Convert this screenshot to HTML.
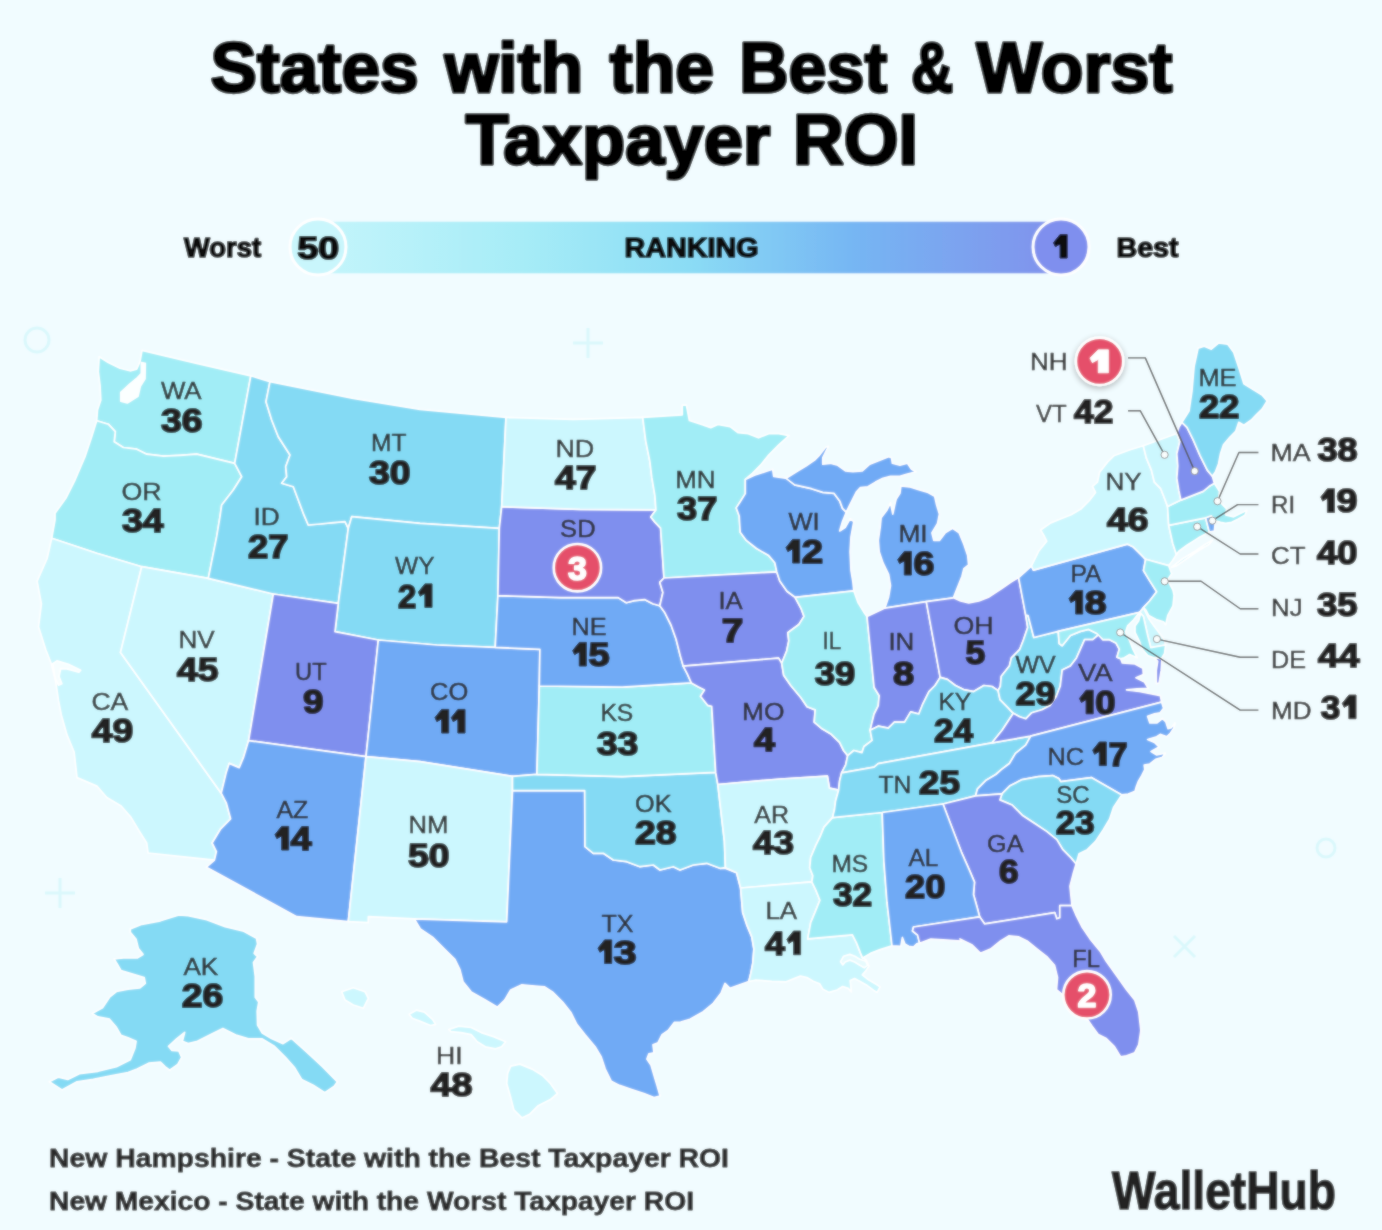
<!DOCTYPE html><html><head><meta charset="utf-8"><title>States with the Best &amp; Worst Taxpayer ROI</title>
<style>html,body{margin:0;padding:0;background:#f1fcff}body{width:1382px;height:1230px;overflow:hidden}svg{display:block;font-family:"Liberation Sans",sans-serif}.st path{stroke:#fff;stroke-width:1.7;stroke-linejoin:round}</style></head><body>
<svg width="1382" height="1230" viewBox="0 0 1382 1230">
<defs><linearGradient id="lg" x1="0" x2="1" y1="0" y2="0"><stop offset="0" stop-color="#c4f5fb"/><stop offset="0.28" stop-color="#a6ecf7"/><stop offset="0.5" stop-color="#8bdcf5"/><stop offset="0.72" stop-color="#76b6f3"/><stop offset="1" stop-color="#8191ec"/></linearGradient>
<filter id="sh" x="-40%" y="-40%" width="180%" height="180%"><feGaussianBlur in="SourceAlpha" stdDeviation="3"/><feOffset dy="2"/><feComponentTransfer><feFuncA type="linear" slope="0.3"/></feComponentTransfer><feMerge><feMergeNode/><feMergeNode in="SourceGraphic"/></feMerge></filter><filter id="soft" filterUnits="userSpaceOnUse" x="0" y="0" width="1382" height="1230"><feGaussianBlur stdDeviation="0.8" result="b"/><feComposite in="SourceGraphic" in2="b" operator="arithmetic" k1="0" k2="0.45" k3="0.55" k4="0"/></filter></defs><g filter="url(#soft)">
<rect width="1382" height="1230" fill="#f1fcff"/>
<g fill="none" stroke="#daf8fc" stroke-width="3"><circle cx="37" cy="340" r="12"/><circle cx="1326" cy="848" r="9"/><path d="M588,328V358M573,343H603"/><path d="M60,878V908M45,893H75"/><path d="M1174,936L1195,957M1195,936L1174,957"/></g>
<text x="210.4" y="92.0" textLength="208.2" lengthAdjust="spacingAndGlyphs" font-size="70" font-weight="bold" fill="#040404" stroke="#040404" stroke-width="3.3" stroke-linejoin="round">States</text>
<text x="444.4" y="92.0" textLength="138.7" lengthAdjust="spacingAndGlyphs" font-size="70" font-weight="bold" fill="#040404" stroke="#040404" stroke-width="3.3" stroke-linejoin="round">with</text>
<text x="609.4" y="92.0" textLength="104.8" lengthAdjust="spacingAndGlyphs" font-size="70" font-weight="bold" fill="#040404" stroke="#040404" stroke-width="3.3" stroke-linejoin="round">the</text>
<text x="739.2" y="92.0" textLength="148.0" lengthAdjust="spacingAndGlyphs" font-size="70" font-weight="bold" fill="#040404" stroke="#040404" stroke-width="3.3" stroke-linejoin="round">Best</text>
<text x="911.1" y="92.0" textLength="42.5" lengthAdjust="spacingAndGlyphs" font-size="70" font-weight="bold" fill="#040404" stroke="#040404" stroke-width="3.3" stroke-linejoin="round">&amp;</text>
<text x="976.2" y="92.0" textLength="196.4" lengthAdjust="spacingAndGlyphs" font-size="70" font-weight="bold" fill="#040404" stroke="#040404" stroke-width="3.3" stroke-linejoin="round">Worst</text>
<text x="465.4" y="164.0" textLength="305.2" lengthAdjust="spacingAndGlyphs" font-size="70" font-weight="bold" fill="#040404" stroke="#040404" stroke-width="3.3" stroke-linejoin="round">Taxpayer</text>
<text x="792.9" y="164.0" textLength="125.2" lengthAdjust="spacingAndGlyphs" font-size="70" font-weight="bold" fill="#040404" stroke="#040404" stroke-width="3.3" stroke-linejoin="round">ROI</text>
<rect x="318" y="221.7" width="743" height="51.6" fill="url(#lg)"/>
<circle cx="318" cy="247" r="28" fill="#c9f6fc" stroke="#fff" stroke-width="3"/>
<circle cx="1061" cy="247" r="28" fill="#7f8fee" stroke="#fff" stroke-width="3"/>
<text x="184.0" y="257.0" textLength="77.0" lengthAdjust="spacingAndGlyphs" font-size="27" font-weight="bold" fill="#080808" stroke="#080808" stroke-width="1.6" stroke-linejoin="round">Worst</text>
<text x="1116.5" y="257.0" textLength="62.0" lengthAdjust="spacingAndGlyphs" font-size="27" font-weight="bold" fill="#080808" stroke="#080808" stroke-width="1.6" stroke-linejoin="round">Best</text>
<text x="624.5" y="257.0" textLength="134.0" lengthAdjust="spacingAndGlyphs" font-size="27" font-weight="bold" fill="#080808" stroke="#080808" stroke-width="1.6" stroke-linejoin="round">RANKING</text>
<text x="297.5" y="258.5" textLength="41.5" lengthAdjust="spacingAndGlyphs" font-size="32" font-weight="bold" fill="#080808" stroke="#080808" stroke-width="2.0" stroke-linejoin="round">50</text>
<polygon points="1060.1,234.5 1067.1,234.5 1067.1,258.0 1060.1,258.0 1060.1,243.9 1055.4,246.7 1053.5,242.7" fill="#080808" stroke="#080808" stroke-width="1.0" stroke-linejoin="round"/>
<g class="st">
<path d="M99.2,356.7 108.3,362.5 120.0,368.3 130.0,370.8 136.7,369.2 140.0,361.7 142.0,350.3 196.7,363.3 250.8,375.8 234.7,463.3 196.7,454.2 180.0,455.3 163.3,456.2 146.7,454.2 136.7,449.2 123.3,447.5 114.2,441.7 115.3,431.7 108.3,424.2 96.7,420.8 97.5,410.0 100.8,400.0 100.0,385.0 98.3,371.7 99.2,356.7Z" fill="#a1edf6"/>
<path d="M96.7,420.8 108.3,424.2 115.3,431.7 114.2,441.7 123.3,447.5 136.7,449.2 146.7,454.2 163.3,456.2 180.0,455.3 196.7,454.2 234.7,463.3 241.7,476.7 233.3,490.0 221.7,505.0 220.0,516.7 216.7,536.7 208.3,578.3 141.7,566.7 96.7,553.3 51.7,538.3 55.0,520.0 55.0,513.3 65.8,498.3 75.0,480.0 85.0,456.7 91.7,436.7 96.7,420.8Z" fill="#a1edf6"/>
<path d="M51.7,538.3 96.7,553.3 141.7,566.7 120.5,652.4 221.2,793.2 226.4,803.2 230.6,818.8 220.7,828.8 212.1,843.0 216.4,851.6 214.4,860.1 148.1,853.0 146.7,843.0 139.6,831.7 131.0,817.4 121.1,806.0 106.8,797.5 96.9,786.1 77.0,777.6 74.1,752.0 67.0,734.9 61.3,715.0 58.5,700.7 55.6,680.8 51.3,663.8 45.7,649.5 38.5,626.8 41.4,604.0 37.1,581.2 47.1,558.5 51.7,538.3Z" fill="#ccf7fe"/>
<path d="M141.7,566.7 208.3,578.3 273.3,594.0 248.6,740.6 243.4,757.7 239.2,767.6 229.2,763.4 226.4,771.9 221.2,793.2 120.5,652.4 141.7,566.7Z" fill="#ccf7fe"/>
<path d="M250.8,375.8 270.0,381.7 266.0,401.7 271.7,420.0 278.3,436.7 290.0,455.0 285.7,466.7 286.7,476.7 281.7,483.3 293.3,486.7 298.3,500.0 303.3,513.3 308.3,525.0 320.0,524.0 333.3,522.7 345.0,521.7 348.3,528.3 338.3,603.3 273.3,594.0 208.3,578.3 216.7,536.7 220.0,516.7 221.7,505.0 233.3,490.0 241.7,476.7 234.7,463.3 250.8,375.8Z" fill="#84daf4"/>
<path d="M270.0,381.7 353.3,398.3 420.0,409.3 506.0,417.3 501.7,506.7 499.3,528.3 420.0,523.3 351.7,516.7 348.3,528.3 345.0,521.7 333.3,522.7 320.0,524.0 308.3,525.0 303.3,513.3 298.3,500.0 293.3,486.7 281.7,483.3 286.7,476.7 285.7,466.7 290.0,455.0 278.3,436.7 271.7,420.0 266.0,401.7 270.0,381.7Z" fill="#84daf4"/>
<path d="M351.7,516.7 420.0,523.3 499.3,528.3 497.9,595.6 495.2,647.4 436.7,645.0 378.3,640.0 335.0,631.7 338.3,603.3 348.3,528.3 351.7,516.7Z" fill="#84daf4"/>
<path d="M273.3,594.0 338.3,603.3 335.0,631.7 378.3,640.0 366.0,756.7 248.6,740.6 273.3,594.0Z" fill="#7f8fee"/>
<path d="M378.3,640.0 436.7,645.0 495.2,647.4 539.9,649.4 539.3,686.0 536.9,774.4 512.5,776.4 420.0,761.7 366.0,756.7 378.3,640.0Z" fill="#6faaf5"/>
<path d="M248.6,740.6 366.0,756.7 348.3,921.7 296.7,916.7 206.4,867.2 214.4,860.1 216.4,851.6 212.1,843.0 220.7,828.8 230.6,818.8 226.4,803.2 221.2,793.2 226.4,771.9 229.2,763.4 239.2,767.6 243.4,757.7 248.6,740.6Z" fill="#6faaf5"/>
<path d="M366.0,756.7 420.0,761.7 512.5,776.4 512.5,790.6 506.7,921.8 414.2,918.8 368.3,916.7 368.3,922.7 348.3,921.7 366.0,756.7Z" fill="#ccf7fe"/>
<path d="M414.2,918.8 506.7,921.8 512.5,790.6 584.7,790.6 585.0,846.7 593.3,853.3 603.3,853.3 613.3,860.0 626.7,861.7 640.0,866.7 653.3,865.0 660.0,870.0 673.3,866.7 680.0,870.0 693.3,865.0 706.7,863.3 720.0,868.3 725.0,868.3 736.6,872.8 740.6,888.0 742.7,912.4 746.7,924.6 751.8,936.8 753.9,949.0 752.8,963.2 750.8,973.4 748.8,981.5 730.0,988.3 725.0,983.3 721.0,993.3 713.3,1003.3 703.3,1011.7 690.0,1019.3 680.7,1022.0 674.3,1022.4 668.2,1030.5 662.1,1034.6 658.1,1042.7 653.0,1044.8 654.0,1052.9 648.9,1053.9 646.9,1059.0 651.0,1065.1 654.0,1075.2 657.1,1085.4 660.1,1096.0 654.0,1097.6 643.9,1093.5 631.7,1089.5 619.5,1085.4 611.3,1081.3 605.2,1069.1 601.2,1057.0 595.1,1046.8 584.9,1034.6 576.8,1024.4 570.7,1012.2 562.6,1002.1 552.4,991.9 544.3,986.8 532.1,985.8 521.9,984.8 510.7,989.9 504.7,1000.1 497.5,1007.2 485.3,1000.1 471.1,991.9 463.0,981.8 459.9,969.6 454.9,959.4 444.7,949.3 432.5,937.1 420.3,928.9 414.2,918.8Z" fill="#6faaf5"/>
<path d="M512.5,776.4 536.9,774.4 622.2,776.6 715.7,772.4 717.8,784.5 724.4,841.3 725.4,867.7 720.0,868.3 706.7,863.3 693.3,865.0 680.0,870.0 673.3,866.7 660.0,870.0 653.3,865.0 640.0,866.7 626.7,861.7 613.3,860.0 603.3,853.3 593.3,853.3 585.0,846.7 584.7,790.6 512.5,790.6 512.5,776.4Z" fill="#84daf4"/>
<path d="M539.3,686.0 622.2,687.2 691.3,682.9 698.5,687.0 704.5,690.1 700.5,696.2 707.6,705.3 711.7,706.3 715.7,772.4 622.2,776.6 536.9,774.4 539.3,686.0Z" fill="#a1edf6"/>
<path d="M497.9,595.6 561.3,597.6 618.2,597.6 626.3,602.7 634.4,600.6 644.6,599.6 652.7,603.7 659.8,605.7 664.9,612.8 671.0,625.0 676.1,639.3 680.2,655.5 683.2,666.1 687.3,673.8 691.3,682.9 622.2,687.2 539.3,686.0 539.9,649.4 495.2,647.4 497.9,595.6Z" fill="#6faaf5"/>
<path d="M501.7,506.7 580.0,509.3 655.9,509.9 650.8,517.0 654.9,522.1 660.6,528.2 664.0,578.0 659.8,582.4 662.9,592.5 659.8,605.7 652.7,603.7 644.6,599.6 634.4,600.6 626.3,602.7 618.2,597.6 561.3,597.6 497.9,595.6 499.3,528.3 501.7,506.7Z" fill="#7f8fee"/>
<path d="M506.0,417.3 573.3,419.3 642.7,417.4 645.7,440.8 649.8,461.1 651.8,477.4 654.9,495.7 655.9,509.9 580.0,509.3 501.7,506.7 506.0,417.3Z" fill="#ccf7fe"/>
<path d="M642.7,417.4 682.3,414.8 682.3,405.2 686.4,405.2 689.4,420.5 701.6,424.5 710.7,427.6 717.9,424.5 730.1,426.6 738.2,432.7 748.3,433.7 758.5,437.8 768.7,433.7 778.8,433.7 789.0,435.7 778.8,444.9 768.7,455.0 760.5,465.2 752.4,473.3 745.3,479.4 745.3,493.6 740.2,501.8 736.2,507.9 739.2,516.0 740.2,532.2 746.3,540.4 756.5,548.5 768.7,555.6 774.8,562.7 776.8,571.9 664.0,578.0 660.6,528.2 654.9,522.1 650.8,517.0 655.9,509.9 654.9,495.7 651.8,477.4 649.8,461.1 645.7,440.8 642.7,417.4Z" fill="#a1edf6"/>
<path d="M664.0,578.0 776.8,571.9 779.8,581.0 787.0,591.2 795.1,597.3 801.0,608.3 804.0,616.4 798.9,624.5 787.8,632.7 788.8,640.8 786.7,651.0 781.7,663.2 778.6,658.1 683.2,666.1 680.2,655.5 676.1,639.3 671.0,625.0 664.9,612.8 659.8,605.7 662.9,592.5 659.8,582.4Z" fill="#7f8fee"/>
<path d="M683.2,666.1 778.6,658.1 781.7,663.2 783.7,675.3 790.8,685.5 801.0,697.7 807.1,706.8 815.2,709.9 814.2,722.1 821.3,728.2 831.4,734.3 839.6,742.4 843.6,750.5 847.7,755.6 845.7,764.8 841.6,772.9 839.6,781.0 838.6,790.2 829.4,788.1 827.4,776.1 780.6,779.0 717.8,784.5 715.7,772.4 711.7,706.3 707.6,705.3 700.5,696.2 704.5,690.1 698.5,687.0 691.3,682.9 687.3,673.8 683.2,666.1Z" fill="#7f8fee"/>
<path d="M717.8,784.5 780.6,779.0 827.4,776.1 829.4,788.1 838.6,790.2 835.5,801.3 834.5,809.5 832.5,817.6 824.0,827.1 819.9,837.2 815.8,845.3 810.7,857.5 809.7,867.7 812.8,875.8 811.8,881.9 740.6,888.0 736.6,872.8 725.4,867.7 724.4,841.3 717.8,784.5Z" fill="#ccf7fe"/>
<path d="M740.6,888.0 811.8,881.9 815.8,890.1 819.9,900.2 815.8,910.4 810.7,922.6 807.7,938.8 852.4,934.8 856.5,942.9 860.5,953.1 862.6,958.1 866.1,959.8 868.9,966.2 865.8,970.9 862.3,974.9 867.3,978.9 875.3,983.7 880.1,986.9 877.2,992.4 873.7,990.4 867.3,985.6 861.0,982.1 854.6,978.6 850.2,980.5 851.4,992.0 848.2,988.4 842.7,986.5 837.1,990.0 829.1,992.4 822.8,989.2 819.6,983.7 813.2,981.3 806.9,977.6 800.5,976.0 794.1,978.6 786.2,981.8 771.8,981.3 755.9,980.2 748.8,981.5 750.8,973.4 752.8,963.2 753.9,949.0 751.8,936.8 746.7,924.6 742.7,912.4 740.6,888.0Z" fill="#ccf7fe"/>
<path d="M832.5,817.6 882.2,812.5 883.9,861.6 887.0,902.2 892.0,945.9 880.1,949.6 870.5,953.4 862.6,958.1 860.5,953.1 856.5,942.9 852.4,934.8 807.7,938.8 810.7,922.6 815.8,910.4 819.9,900.2 815.8,890.1 811.8,881.9 812.8,875.8 809.7,867.7 810.7,857.5 815.8,845.3 819.9,837.2 824.0,827.1 832.5,817.6Z" fill="#a1edf6"/>
<path d="M745.3,479.4 754.4,475.3 766.6,471.3 772.7,469.3 773.7,476.4 787.0,478.4 794.6,484.9 811.5,488.7 822.8,492.4 834.1,493.4 839.7,500.9 842.5,508.4 846.3,512.2 842.5,521.6 839.7,531.0 845.4,527.2 850.1,518.8 853.8,521.6 851.0,536.7 850.1,551.7 851.0,570.5 852.9,581.8 853.8,590.8 795.1,597.3 787.0,591.2 779.8,581.0 776.8,571.9 774.8,562.7 768.7,555.6 756.5,548.5 746.3,540.4 740.2,532.2 739.2,516.0 736.2,507.9 740.2,501.8 745.3,493.6 745.3,479.4Z" fill="#6faaf5"/>
<path d="M795.1,597.3 853.8,590.8 857.9,602.2 864.0,612.4 867.0,616.4 874.1,687.5 879.2,695.7 878.2,705.8 874.1,714.0 872.1,722.1 870.1,730.2 872.1,740.4 864.0,746.5 861.9,752.6 853.8,750.5 847.7,755.6 843.6,750.5 839.6,742.4 831.4,734.3 821.3,728.2 814.2,722.1 815.2,709.9 807.1,706.8 801.0,697.7 790.8,685.5 783.7,675.3 781.7,663.2 786.7,651.0 788.8,640.8 787.8,632.7 798.9,624.5 804.0,616.4 801.0,608.3Z" fill="#a1edf6"/>
<path d="M786.1,478.3 796.4,471.7 805.9,466.1 815.3,459.5 819.0,455.7 825.6,447.3 828.4,446.3 822.8,457.6 822.8,464.2 830.3,463.3 837.8,465.2 845.4,470.8 852.9,471.7 862.3,470.8 869.8,464.2 879.2,460.5 888.6,456.7 891.5,457.6 892.4,463.3 899.9,465.2 907.5,463.3 911.2,468.9 915.9,471.7 905.6,474.6 899.9,476.4 890.5,476.4 883.0,478.3 875.5,482.1 867.9,486.8 860.4,487.7 856.7,491.5 852.9,499.0 849.1,506.5 846.3,512.2 842.5,508.4 839.7,500.9 834.1,493.4 822.8,492.4 811.5,488.7 794.6,484.9 786.1,478.3Z" fill="#6faaf5"/>
<path d="M884.9,608.1 888.6,596.9 890.5,585.6 888.6,574.3 883.0,563.0 879.2,551.7 878.3,540.4 880.2,527.2 881.1,517.8 886.8,510.3 890.5,502.8 892.8,514.1 895.2,502.8 896.2,499.0 899.9,493.4 900.9,485.9 909.3,486.8 918.7,489.6 928.1,492.4 934.7,496.2 936.6,504.7 939.4,514.1 937.6,523.5 931.9,532.9 933.8,540.4 939.4,540.4 945.1,532.9 952.6,528.2 959.2,532.9 963.9,544.2 967.7,555.5 968.6,564.9 963.9,568.6 962.0,576.2 958.3,585.6 954.5,595.0 953.5,597.8 926.3,601.6 884.9,608.1Z" fill="#6faaf5"/>
<path d="M867.0,616.4 884.9,608.1 926.3,601.6 940.2,677.4 935.1,685.5 929.0,691.6 922.9,703.8 918.8,714.0 910.7,711.9 904.6,722.1 894.4,722.1 888.3,728.2 878.2,726.2 870.1,730.2 872.1,722.1 874.1,714.0 878.2,705.8 879.2,695.7 874.1,687.5 867.0,616.4Z" fill="#7f8fee"/>
<path d="M926.3,601.6 953.5,597.8 960.6,601.0 968.8,603.0 978.9,601.0 989.1,596.9 1001.3,588.8 1011.4,581.7 1018.6,577.6 1025.7,615.2 1027.7,627.4 1023.6,639.6 1019.6,649.7 1011.4,657.9 1009.4,666.0 1001.3,676.2 1000.3,686.3 998.1,690.6 992.0,686.5 983.9,685.5 973.7,691.6 963.5,689.6 955.4,685.5 947.3,679.4 940.2,677.4 926.3,601.6Z" fill="#7f8fee"/>
<path d="M940.2,677.4 947.3,679.4 955.4,685.5 963.5,689.6 973.7,691.6 983.9,685.5 992.0,686.5 998.1,690.6 1000.1,699.7 1008.2,707.9 1013.3,713.3 1002.1,730.2 992.0,742.8 878.2,763.7 874.1,767.2 841.6,772.9 845.7,764.8 847.7,755.6 853.8,750.5 861.9,752.6 864.0,746.5 872.1,740.4 870.1,730.2 878.2,726.2 888.3,728.2 894.4,722.1 904.6,722.1 910.7,711.9 918.8,714.0 922.9,703.8 929.0,691.6 935.1,685.5 940.2,677.4Z" fill="#84daf4"/>
<path d="M841.6,772.9 874.1,767.2 878.2,763.7 992.0,742.8 1030.7,736.1 1025.7,745.2 1015.5,753.4 1009.4,763.5 1001.3,769.6 995.8,774.5 985.7,780.6 977.5,788.8 975.5,795.9 943.0,804.0 882.2,812.5 832.5,817.6 834.5,809.5 835.5,801.3 838.6,790.2 839.6,781.0 841.6,772.9Z" fill="#84daf4"/>
<path d="M998.1,690.6 1000.3,686.3 1001.3,676.2 1009.4,666.0 1011.4,657.9 1019.6,649.7 1023.6,639.6 1027.7,627.4 1025.7,615.2 1028.1,615.6 1033.8,637.5 1058.2,631.4 1059.2,643.6 1062.2,645.7 1070.4,635.5 1080.5,631.4 1088.7,629.4 1096.8,633.5 1102.9,639.6 1098.8,634.5 1092.7,639.6 1084.6,639.6 1076.5,657.9 1070.4,666.0 1062.2,670.1 1060.2,686.3 1056.2,696.5 1050.1,705.6 1041.9,709.7 1031.8,712.7 1025.7,718.8 1019.6,716.8 1013.3,713.3 1008.2,707.9 1000.1,699.7 998.1,690.6Z" fill="#84daf4"/>
<path d="M1013.3,713.3 1019.6,716.8 1025.7,718.8 1031.8,712.7 1041.9,709.7 1050.1,705.6 1056.2,696.5 1060.2,686.3 1062.2,670.1 1070.4,666.0 1076.5,657.9 1084.6,639.6 1092.7,639.6 1098.8,634.5 1102.9,639.6 1109.6,639.7 1115.9,642.9 1119.3,649.2 1117.0,657.1 1120.7,658.7 1122.3,663.0 1135.0,664.0 1142.9,668.2 1143.4,674.6 1136.0,677.8 1144.5,682.0 1148.2,688.3 1137.1,688.9 1126.5,689.9 1139.2,691.5 1153.0,694.1 1160.4,695.7 1161.6,702.1 1030.7,736.1 992.0,742.8 1002.1,730.2 1013.3,713.3Z" fill="#7f8fee"/>
<path d="M1154.0,657.7 1161.9,658.7 1161.2,670.4 1159.1,683.0 1156.3,683.6 1156.3,670.4 1157.7,661.4Z" fill="#7f8fee"/>
<path d="M1030.7,736.1 1161.6,702.1 1163.6,708.2 1160.2,712.8 1154.5,713.9 1147.6,716.2 1149.9,723.0 1156.7,723.0 1162.4,718.5 1165.9,721.9 1168.1,728.7 1171.5,727.6 1175.0,723.0 1173.8,728.1 1170.4,733.3 1167.0,736.7 1160.2,734.4 1156.7,736.7 1147.6,739.5 1154.5,742.4 1159.0,746.9 1151.1,751.5 1156.7,754.9 1165.3,753.2 1162.4,757.2 1155.6,759.4 1149.9,764.0 1144.2,765.1 1144.8,769.7 1141.9,775.4 1138.5,781.1 1136.3,786.7 1135.1,791.3 1128.3,794.1 1121.8,794.9 1091.3,777.6 1060.9,781.7 1058.8,778.6 1052.7,775.6 1038.5,776.6 1022.2,779.6 1010.1,785.7 1001.9,793.9 975.5,795.9 977.5,788.8 985.7,780.6 995.8,774.5 1001.3,769.6 1009.4,763.5 1015.5,753.4 1025.7,745.2 1030.7,736.1Z" fill="#6faaf5"/>
<path d="M1001.9,793.9 1010.1,785.7 1022.2,779.6 1038.5,776.6 1052.7,775.6 1058.8,778.6 1060.9,781.7 1091.3,777.6 1121.8,794.9 1113.7,807.1 1109.6,819.3 1103.5,829.4 1095.4,841.6 1087.3,849.7 1079.1,853.8 1076.1,864.0 1071.0,857.9 1062.9,849.7 1056.8,839.6 1046.6,831.4 1034.4,823.3 1022.2,815.2 1012.1,805.0 999.9,799.9 1001.9,793.9Z" fill="#84daf4"/>
<path d="M943.0,804.0 975.5,795.9 1001.9,793.9 999.9,799.9 1012.1,805.0 1022.2,815.2 1034.4,823.3 1046.6,831.4 1056.8,839.6 1062.9,849.7 1071.0,857.9 1076.1,864.0 1073.1,874.1 1070.0,886.3 1071.0,896.5 1072.0,905.6 1059.8,905.6 1059.8,917.8 1056.8,918.8 1054.8,912.7 984.7,923.9 979.6,916.8 977.5,908.7 973.5,894.4 974.5,882.2 969.4,870.1 961.3,851.8 951.1,825.3 943.0,804.0Z" fill="#7f8fee"/>
<path d="M882.2,812.5 943.0,804.0 951.1,825.3 961.3,851.8 969.4,870.1 974.5,882.2 973.5,894.4 977.5,908.7 979.6,916.8 913.5,927.0 912.5,931.0 917.6,935.1 919.6,943.2 916.7,943.9 913.5,947.1 908.7,946.3 904.8,943.9 902.4,937.5 900.8,946.3 892.0,945.9 887.0,902.2 883.9,861.6 882.2,812.5Z" fill="#6faaf5"/>
<path d="M979.6,916.8 984.7,923.9 1054.8,912.7 1056.8,918.8 1059.8,917.8 1059.8,905.6 1072.0,905.6 1075.8,914.5 1081.9,926.7 1090.1,938.9 1100.2,951.1 1106.3,961.3 1116.5,975.5 1126.6,989.7 1134.8,999.9 1138.8,1012.1 1140.9,1030.4 1138.8,1044.6 1134.8,1052.7 1126.6,1055.8 1120.5,1056.8 1114.4,1046.6 1106.3,1038.5 1098.2,1034.4 1092.1,1026.3 1088.0,1020.2 1073.8,1010.1 1061.6,993.8 1056.5,989.7 1057.5,977.5 1054.5,965.3 1047.4,957.2 1037.2,949.1 1027.1,941.0 1018.9,936.9 1008.8,935.9 1000.6,941.0 990.5,949.1 980.3,953.2 972.2,945.0 960.0,938.9 961.3,941.2 947.1,940.2 930.8,939.1 919.6,943.2 917.6,935.1 912.5,931.0 913.5,927.0 979.6,916.8Z" fill="#7f8fee"/>
<path d="M1018.6,577.6 1031.4,566.0 1033.4,570.1 1127.3,544.1 1133.4,547.1 1140.5,554.2 1145.6,559.3 1143.5,570.5 1149.6,580.6 1156.7,591.8 1149.6,601.0 1143.4,607.7 1141.9,609.6 1139.7,612.4 1058.2,631.4 1033.8,637.5 1028.1,615.6 1025.7,615.2 1018.6,577.6Z" fill="#6faaf5"/>
<path d="M1031.4,566.0 1038.6,551.3 1046.7,541.2 1043.7,535.1 1040.6,530.0 1050.8,522.9 1061.0,518.8 1071.1,514.8 1081.3,508.7 1089.4,500.5 1095.5,492.4 1092.5,486.3 1097.5,482.2 1099.6,472.1 1107.7,461.9 1113.8,455.8 1130.1,449.7 1143.3,445.7 1146.3,457.9 1151.4,470.1 1154.4,482.2 1160.5,488.3 1164.6,498.5 1167.6,506.6 1168.7,525.3 1172.7,543.2 1176.4,554.4 1172.7,560.5 1168.7,565.6 1145.6,559.3 1140.5,554.2 1133.4,547.1 1127.3,544.1 1033.4,570.1 1031.4,566.0Z" fill="#ccf7fe"/>
<path d="M1145.6,559.3 1168.7,565.6 1171.7,573.7 1167.6,579.8 1173.0,590.0 1174.1,595.3 1173.0,605.9 1167.8,615.4 1165.6,624.9 1163.5,621.7 1156.1,619.6 1148.7,615.4 1145.6,609.6 1143.4,607.7 1149.6,601.0 1156.7,591.8 1149.6,580.6 1143.5,570.5 1145.6,559.3Z" fill="#a1edf6"/>
<path d="M1139.7,612.4 1141.9,609.6 1143.4,607.7 1148.7,618.5 1154.0,625.9 1160.4,634.4 1164.6,640.8 1165.6,645.0 1150.8,647.6 1147.7,635.5 1143.4,616.4 1139.7,612.4Z" fill="#ccf7fe"/>
<path d="M1058.2,631.4 1139.7,612.4 1143.4,616.4 1147.7,635.5 1150.8,647.6 1165.6,645.0 1164.6,653.4 1161.4,658.7 1154.0,657.7 1147.7,655.6 1142.4,649.2 1139.2,640.8 1135.0,632.3 1135.0,625.9 1138.7,620.7 1140.5,613.8 1137.6,614.8 1132.9,620.7 1127.6,625.9 1125.5,632.3 1129.7,640.8 1132.9,649.2 1137.1,657.7 1129.7,654.5 1124.4,657.7 1120.7,658.7 1117.0,657.1 1119.3,649.2 1115.9,642.9 1109.6,639.7 1102.9,639.6 1096.8,633.5 1088.7,629.4 1080.5,631.4 1070.4,635.5 1062.2,645.7 1059.2,643.6 1058.2,631.4Z" fill="#a1edf6"/>
<path d="M1168.7,525.3 1205.6,517.8 1209.3,532.0 1198.1,538.1 1187.0,545.2 1178.8,551.3 1176.4,554.4 1172.7,543.2 1168.7,525.3Z" fill="#a1edf6"/>
<path d="M1205.6,517.8 1211.3,515.8 1215.4,520.9 1214.4,531.0 1209.3,532.0 1205.6,517.8Z" fill="#6faaf5"/>
<path d="M1167.6,506.6 1180.9,500.1 1203.2,491.4 1209.3,486.3 1214.4,483.3 1219.5,491.4 1218.5,500.5 1223.5,505.6 1226.6,508.7 1225.6,514.8 1233.7,516.8 1241.8,512.7 1246.9,510.3 1244.9,515.2 1237.8,519.2 1231.7,522.3 1225.6,523.3 1220.5,522.3 1215.4,520.9 1211.3,515.8 1205.6,517.8 1168.7,525.3 1167.6,506.6Z" fill="#a1edf6"/>
<path d="M1143.3,445.7 1176.8,433.5 1179.8,441.6 1176.8,453.8 1177.8,466.0 1176.8,478.2 1178.8,490.4 1180.9,500.1 1167.6,506.6 1164.6,498.5 1160.5,488.3 1154.4,482.2 1151.4,470.1 1146.3,457.9 1143.3,445.7Z" fill="#ccf7fe"/>
<path d="M1176.8,433.5 1178.8,427.4 1181.9,422.3 1187.0,427.4 1193.1,439.6 1200.2,455.8 1207.3,470.1 1212.4,476.2 1214.4,483.3 1209.3,486.3 1203.2,491.4 1180.9,500.1 1178.8,490.4 1176.8,478.2 1177.8,466.0 1176.8,453.8 1179.8,441.6 1176.8,433.5Z" fill="#7f8fee"/>
<path d="M1181.9,422.3 1189.0,411.1 1192.0,390.8 1194.1,366.4 1198.1,348.1 1204.2,346.1 1211.3,349.1 1218.5,343.0 1227.6,344.1 1233.7,352.2 1239.8,370.5 1243.9,383.7 1252.0,388.8 1262.1,394.9 1267.2,401.0 1262.1,409.1 1256.0,415.2 1251.0,420.3 1243.9,425.3 1238.8,422.3 1235.7,431.4 1229.6,437.5 1223.5,444.7 1220.5,453.8 1218.5,464.0 1215.4,472.1 1212.4,476.2 1207.3,470.1 1200.2,455.8 1193.1,439.6 1187.0,427.4 1181.9,422.3Z" fill="#84daf4"/>
<path d="M1171.7,567.2 1182.9,558.5 1195.1,551.3 1205.2,544.2 1212.4,540.2 1209.3,544.2 1199.1,550.3 1187.0,558.5 1176.8,565.6Z" fill="#ccf7fe" stroke-width="1.2"/>
<path d="M141.3,362.5 145.3,363.3 145.0,378.7 140.3,386.3 138.0,396.3 127.3,403.0 120.8,401.3 120.8,392.3 130.0,384.0 137.5,377.7 141.3,373.7Z" fill="#fbffff" stroke="none"/>
<path d="M52.8,663.8 57.0,660.9 68.4,664.3 80.7,670.3 78.9,672.3 67.0,668.9 60.7,668.6 59.0,676.6 61.9,683.7 58.5,685.1 55.0,678.0Z" fill="#f6feff" stroke="none"/>
<path d="M840.6,961.7 843.5,956.3 849.8,954.4 854.9,956.3 859.7,959.2 865.8,961.1 867.7,965.4 864.2,967.8 859.4,964.9 854.6,962.0 849.8,960.1 845.1,962.0 842.8,964.9Z" fill="#e6fbfe" stroke-width="1.3"/>
<path d="M130.3,928.9 141.9,924.3 160.4,920.8 178.9,915.0 188.2,915.7 206.7,919.7 225.2,926.6 243.8,931.3 256.5,938.2 257.6,944.0 254.2,953.3 257.6,956.7 253.5,962.5 255.3,976.4 255.3,997.2 258.8,1001.9 257.2,1011.1 257.6,1025.0 262.3,1033.1 271.5,1038.5 283.1,1043.6 291.2,1038.2 306.3,1051.7 322.5,1066.7 337.5,1081.8 334.0,1086.4 324.8,1092.6 313.2,1085.2 301.6,1079.4 294.7,1067.9 285.4,1057.4 273.9,1045.9 262.3,1038.9 248.4,1038.9 236.8,1035.4 222.9,1028.5 211.3,1034.3 197.4,1041.2 188.2,1043.6 182.4,1041.2 184.7,1032.4 176.6,1038.9 168.5,1046.3 172.0,1050.5 178.9,1051.0 181.7,1057.4 177.8,1064.4 169.7,1070.2 165.0,1066.7 160.4,1062.1 148.8,1063.2 137.2,1069.0 128.0,1072.5 109.5,1076.0 93.3,1079.4 77.0,1081.8 62.0,1089.9 49.3,1081.8 58.5,1077.1 67.8,1079.4 79.4,1073.7 97.9,1071.3 116.4,1066.7 130.3,1059.8 134.9,1048.2 136.1,1041.2 128.0,1037.8 121.0,1035.4 116.4,1027.3 109.5,1019.2 97.9,1016.9 92.1,1013.5 102.5,1007.7 109.5,997.2 116.4,991.5 128.0,989.1 139.6,988.0 145.3,983.4 144.2,977.6 132.6,974.1 121.0,970.6 117.6,964.8 114.1,959.0 123.4,957.9 137.2,957.9 143.0,954.4 138.4,948.6 136.1,939.4 130.3,932.4Z" fill="#84daf4"/>
<path d="M341.7,991.7 353.3,987.7 365.0,991.7 368.3,998.3 363.3,1008.3 353.3,1005.0 345.0,1000.0Z" fill="#ccf7fe"/>
<path d="M409.1,1014.3 416.3,1010.2 424.4,1012.2 432.5,1019.4 435.6,1024.4 430.5,1025.5 420.3,1021.4 412.2,1018.3Z" fill="#ccf7fe"/>
<path d="M448.8,1029.5 458.9,1026.1 471.1,1027.5 481.3,1032.6 493.5,1036.6 505.7,1041.7 501.6,1046.8 495.5,1048.8 485.3,1046.8 477.2,1041.7 471.1,1034.6 461.0,1032.6 450.8,1031.6Z" fill="#ccf7fe"/>
<path d="M510.7,1066.1 519.9,1064.1 532.1,1069.1 542.2,1075.2 550.4,1083.4 557.5,1093.5 550.4,1099.6 538.2,1105.7 530.1,1113.9 521.9,1117.9 513.8,1109.8 510.7,1097.6 506.7,1083.4 507.7,1073.2Z" fill="#ccf7fe"/>
</g>
<g fill="none" stroke="#555" stroke-width="1.4" stroke-linejoin="round">
<path d="M1128.0,357.9 L1145.3,357.9 L1194.7,471.1"/>
<path d="M1128.0,410.7 L1140.2,410.7 L1164.6,454.8"/>
<path d="M1258.4,452.5 L1238.9,452.5 L1217.5,501.2"/>
<path d="M1258.4,504.6 L1237.6,504.6 L1212.3,520.7"/>
<path d="M1258.4,554.0 L1240.2,554.0 L1197.2,526.7"/>
<path d="M1258.4,608.7 L1240.2,608.7 L1201.1,581.3 L1164.7,581.3"/>
<path d="M1258.4,657.3 L1240.2,657.3 L1156.9,639.1"/>
<path d="M1258.4,710.1 L1240.2,710.1 L1120.2,632.5"/>
</g><g fill="#fbffff" stroke="#8a8a8a" stroke-width="0.9">
<circle cx="1194.7" cy="471.1" r="3.6"/>
<circle cx="1164.6" cy="454.8" r="3.6"/>
<circle cx="1217.5" cy="501.2" r="3.6"/>
<circle cx="1212.3" cy="520.7" r="3.6"/>
<circle cx="1197.2" cy="526.7" r="3.6"/>
<circle cx="1164.7" cy="581.3" r="3.6"/>
<circle cx="1156.9" cy="639.1" r="3.6"/>
<circle cx="1120.2" cy="632.5" r="3.6"/>
</g>
<text x="160.9" y="399.4" textLength="40.7" lengthAdjust="spacingAndGlyphs" font-size="24" font-weight="normal" fill="#2e2e2e" stroke="#2e2e2e" stroke-width="0.45" stroke-linejoin="round">WA</text>
<text x="161.0" y="432.0" textLength="41.5" lengthAdjust="spacingAndGlyphs" font-size="33" font-weight="bold" fill="#242222" stroke="#242222" stroke-width="1.9" stroke-linejoin="round">36</text>
<text x="121.4" y="500.4" textLength="40.2" lengthAdjust="spacingAndGlyphs" font-size="24" font-weight="normal" fill="#2e2e2e" stroke="#2e2e2e" stroke-width="0.45" stroke-linejoin="round">OR</text>
<text x="122.0" y="532.0" textLength="41.5" lengthAdjust="spacingAndGlyphs" font-size="33" font-weight="bold" fill="#242222" stroke="#242222" stroke-width="1.9" stroke-linejoin="round">34</text>
<text x="253.4" y="525.4" textLength="26.2" lengthAdjust="spacingAndGlyphs" font-size="24" font-weight="normal" fill="#2e2e2e" stroke="#2e2e2e" stroke-width="0.45" stroke-linejoin="round">ID</text>
<text x="248.0" y="558.0" textLength="40.5" lengthAdjust="spacingAndGlyphs" font-size="33" font-weight="bold" fill="#242222" stroke="#242222" stroke-width="1.9" stroke-linejoin="round">27</text>
<text x="371.1" y="451.4" textLength="35.5" lengthAdjust="spacingAndGlyphs" font-size="24" font-weight="normal" fill="#2e2e2e" stroke="#2e2e2e" stroke-width="0.45" stroke-linejoin="round">MT</text>
<text x="369.0" y="483.5" textLength="41.5" lengthAdjust="spacingAndGlyphs" font-size="33" font-weight="bold" fill="#242222" stroke="#242222" stroke-width="1.9" stroke-linejoin="round">30</text>
<text x="395.1" y="574.4" textLength="39.5" lengthAdjust="spacingAndGlyphs" font-size="24" font-weight="normal" fill="#2e2e2e" stroke="#2e2e2e" stroke-width="0.45" stroke-linejoin="round">WY</text>
<text x="398.0" y="607.5" textLength="18.3" lengthAdjust="spacingAndGlyphs" font-size="33" font-weight="bold" fill="#242222" stroke="#242222" stroke-width="1.9" stroke-linejoin="round">2</text><polygon points="424.9,583.9 432.0,583.9 432.0,607.5 424.9,607.5 424.9,593.3 420.2,596.2 418.3,592.1" fill="#242222" stroke="#242222" stroke-width="1.0" stroke-linejoin="round"/>
<text x="178.4" y="648.4" textLength="36.2" lengthAdjust="spacingAndGlyphs" font-size="24" font-weight="normal" fill="#2e2e2e" stroke="#2e2e2e" stroke-width="0.45" stroke-linejoin="round">NV</text>
<text x="177.0" y="681.0" textLength="41.5" lengthAdjust="spacingAndGlyphs" font-size="33" font-weight="bold" fill="#242222" stroke="#242222" stroke-width="1.9" stroke-linejoin="round">45</text>
<text x="295.1" y="680.4" textLength="31.5" lengthAdjust="spacingAndGlyphs" font-size="24" font-weight="normal" fill="#2e2e2e" stroke="#2e2e2e" stroke-width="0.45" stroke-linejoin="round">UT</text>
<text x="303.0" y="713.0" textLength="20.5" lengthAdjust="spacingAndGlyphs" font-size="33" font-weight="bold" fill="#242222" stroke="#242222" stroke-width="1.9" stroke-linejoin="round">9</text>
<text x="430.1" y="700.4" textLength="38.2" lengthAdjust="spacingAndGlyphs" font-size="24" font-weight="normal" fill="#2e2e2e" stroke="#2e2e2e" stroke-width="0.45" stroke-linejoin="round">CO</text>
<polygon points="441.6,709.4 448.7,709.4 448.7,733.0 441.6,733.0 441.6,718.8 436.9,721.7 435.0,717.6" fill="#242222" stroke="#242222" stroke-width="1.0" stroke-linejoin="round"/><polygon points="457.9,709.4 465.0,709.4 465.0,733.0 457.9,733.0 457.9,718.8 453.2,721.7 451.3,717.6" fill="#242222" stroke="#242222" stroke-width="1.0" stroke-linejoin="round"/>
<text x="91.4" y="710.4" textLength="36.9" lengthAdjust="spacingAndGlyphs" font-size="24" font-weight="normal" fill="#2e2e2e" stroke="#2e2e2e" stroke-width="0.45" stroke-linejoin="round">CA</text>
<text x="91.7" y="742.0" textLength="41.5" lengthAdjust="spacingAndGlyphs" font-size="33" font-weight="bold" fill="#242222" stroke="#242222" stroke-width="1.9" stroke-linejoin="round">49</text>
<text x="276.4" y="818.4" textLength="31.9" lengthAdjust="spacingAndGlyphs" font-size="24" font-weight="normal" fill="#2e2e2e" stroke="#2e2e2e" stroke-width="0.45" stroke-linejoin="round">AZ</text>
<polygon points="281.6,826.4 288.7,826.4 288.7,850.0 281.6,850.0 281.6,835.8 276.9,838.7 275.0,834.6" fill="#242222" stroke="#242222" stroke-width="1.0" stroke-linejoin="round"/><text x="290.7" y="850.0" textLength="20.8" lengthAdjust="spacingAndGlyphs" font-size="33" font-weight="bold" fill="#242222" stroke="#242222" stroke-width="1.9" stroke-linejoin="round">4</text>
<text x="408.4" y="833.4" textLength="39.9" lengthAdjust="spacingAndGlyphs" font-size="24" font-weight="normal" fill="#2e2e2e" stroke="#2e2e2e" stroke-width="0.45" stroke-linejoin="round">NM</text>
<text x="408.0" y="866.7" textLength="41.5" lengthAdjust="spacingAndGlyphs" font-size="33" font-weight="bold" fill="#242222" stroke="#242222" stroke-width="1.9" stroke-linejoin="round">50</text>
<text x="183.4" y="975.4" textLength="34.9" lengthAdjust="spacingAndGlyphs" font-size="24" font-weight="normal" fill="#2e2e2e" stroke="#2e2e2e" stroke-width="0.45" stroke-linejoin="round">AK</text>
<text x="181.7" y="1006.7" textLength="41.5" lengthAdjust="spacingAndGlyphs" font-size="33" font-weight="bold" fill="#242222" stroke="#242222" stroke-width="1.9" stroke-linejoin="round">26</text>
<text x="436.0" y="1064.4" textLength="26.6" lengthAdjust="spacingAndGlyphs" font-size="24" font-weight="normal" fill="#2e2e2e" stroke="#2e2e2e" stroke-width="0.45" stroke-linejoin="round">HI</text>
<text x="430.5" y="1095.6" textLength="42.0" lengthAdjust="spacingAndGlyphs" font-size="33" font-weight="bold" fill="#242222" stroke="#242222" stroke-width="1.9" stroke-linejoin="round">48</text>
<text x="555.4" y="457.4" textLength="38.9" lengthAdjust="spacingAndGlyphs" font-size="24" font-weight="normal" fill="#2e2e2e" stroke="#2e2e2e" stroke-width="0.45" stroke-linejoin="round">ND</text>
<text x="555.0" y="488.5" textLength="41.5" lengthAdjust="spacingAndGlyphs" font-size="33" font-weight="bold" fill="#242222" stroke="#242222" stroke-width="1.9" stroke-linejoin="round">47</text>
<text x="560.1" y="537.4" textLength="35.5" lengthAdjust="spacingAndGlyphs" font-size="24" font-weight="normal" fill="#2e2e2e" stroke="#2e2e2e" stroke-width="0.45" stroke-linejoin="round">SD</text>
<text x="571.4" y="635.4" textLength="35.2" lengthAdjust="spacingAndGlyphs" font-size="24" font-weight="normal" fill="#2e2e2e" stroke="#2e2e2e" stroke-width="0.45" stroke-linejoin="round">NE</text>
<polygon points="579.3,642.4 586.4,642.4 586.4,666.0 579.3,666.0 579.3,651.8 574.6,654.7 572.7,650.6" fill="#242222" stroke="#242222" stroke-width="1.0" stroke-linejoin="round"/><text x="588.4" y="666.0" textLength="21.1" lengthAdjust="spacingAndGlyphs" font-size="33" font-weight="bold" fill="#242222" stroke="#242222" stroke-width="1.9" stroke-linejoin="round">5</text>
<text x="600.4" y="720.9" textLength="32.9" lengthAdjust="spacingAndGlyphs" font-size="24" font-weight="normal" fill="#2e2e2e" stroke="#2e2e2e" stroke-width="0.45" stroke-linejoin="round">KS</text>
<text x="596.7" y="755.0" textLength="41.5" lengthAdjust="spacingAndGlyphs" font-size="33" font-weight="bold" fill="#242222" stroke="#242222" stroke-width="1.9" stroke-linejoin="round">33</text>
<text x="635.1" y="812.1" textLength="36.5" lengthAdjust="spacingAndGlyphs" font-size="24" font-weight="normal" fill="#2e2e2e" stroke="#2e2e2e" stroke-width="0.45" stroke-linejoin="round">OK</text>
<text x="635.0" y="844.0" textLength="41.5" lengthAdjust="spacingAndGlyphs" font-size="33" font-weight="bold" fill="#242222" stroke="#242222" stroke-width="1.9" stroke-linejoin="round">28</text>
<text x="601.4" y="932.1" textLength="31.9" lengthAdjust="spacingAndGlyphs" font-size="24" font-weight="normal" fill="#2e2e2e" stroke="#2e2e2e" stroke-width="0.45" stroke-linejoin="round">TX</text>
<polygon points="604.6,939.9 611.7,939.9 611.7,963.5 604.6,963.5 604.6,949.3 599.9,952.2 598.0,948.1" fill="#242222" stroke="#242222" stroke-width="1.0" stroke-linejoin="round"/><text x="613.7" y="963.5" textLength="22.8" lengthAdjust="spacingAndGlyphs" font-size="33" font-weight="bold" fill="#242222" stroke="#242222" stroke-width="1.9" stroke-linejoin="round">3</text>
<text x="675.2" y="488.4" textLength="40.4" lengthAdjust="spacingAndGlyphs" font-size="24" font-weight="normal" fill="#2e2e2e" stroke="#2e2e2e" stroke-width="0.45" stroke-linejoin="round">MN</text>
<text x="677.0" y="520.0" textLength="40.3" lengthAdjust="spacingAndGlyphs" font-size="33" font-weight="bold" fill="#242222" stroke="#242222" stroke-width="1.9" stroke-linejoin="round">37</text>
<text x="718.4" y="609.4" textLength="24.2" lengthAdjust="spacingAndGlyphs" font-size="24" font-weight="normal" fill="#2e2e2e" stroke="#2e2e2e" stroke-width="0.45" stroke-linejoin="round">IA</text>
<text x="721.7" y="641.7" textLength="21.5" lengthAdjust="spacingAndGlyphs" font-size="33" font-weight="bold" fill="#242222" stroke="#242222" stroke-width="1.9" stroke-linejoin="round">7</text>
<text x="742.1" y="719.9" textLength="42.5" lengthAdjust="spacingAndGlyphs" font-size="24" font-weight="normal" fill="#2e2e2e" stroke="#2e2e2e" stroke-width="0.45" stroke-linejoin="round">MO</text>
<text x="754.0" y="751.0" textLength="21.0" lengthAdjust="spacingAndGlyphs" font-size="33" font-weight="bold" fill="#242222" stroke="#242222" stroke-width="1.9" stroke-linejoin="round">4</text>
<text x="754.3" y="823.0" textLength="34.7" lengthAdjust="spacingAndGlyphs" font-size="24" font-weight="normal" fill="#2e2e2e" stroke="#2e2e2e" stroke-width="0.45" stroke-linejoin="round">AR</text>
<text x="753.0" y="854.0" textLength="41.0" lengthAdjust="spacingAndGlyphs" font-size="33" font-weight="bold" fill="#242222" stroke="#242222" stroke-width="1.9" stroke-linejoin="round">43</text>
<text x="765.4" y="919.4" textLength="31.7" lengthAdjust="spacingAndGlyphs" font-size="24" font-weight="normal" fill="#2e2e2e" stroke="#2e2e2e" stroke-width="0.45" stroke-linejoin="round">LA</text>
<text x="765.0" y="954.7" textLength="19.9" lengthAdjust="spacingAndGlyphs" font-size="33" font-weight="bold" fill="#242222" stroke="#242222" stroke-width="1.9" stroke-linejoin="round">4</text><polygon points="793.5,931.1 800.6,931.1 800.6,954.7 793.5,954.7 793.5,940.5 788.8,943.4 786.9,939.3" fill="#242222" stroke="#242222" stroke-width="1.0" stroke-linejoin="round"/>
<text x="831.4" y="872.2" textLength="36.8" lengthAdjust="spacingAndGlyphs" font-size="24" font-weight="normal" fill="#2e2e2e" stroke="#2e2e2e" stroke-width="0.45" stroke-linejoin="round">MS</text>
<text x="833.0" y="906.0" textLength="39.2" lengthAdjust="spacingAndGlyphs" font-size="33" font-weight="bold" fill="#242222" stroke="#242222" stroke-width="1.9" stroke-linejoin="round">32</text>
<text x="908.4" y="866.1" textLength="29.9" lengthAdjust="spacingAndGlyphs" font-size="24" font-weight="normal" fill="#2e2e2e" stroke="#2e2e2e" stroke-width="0.45" stroke-linejoin="round">AL</text>
<text x="905.0" y="897.8" textLength="40.3" lengthAdjust="spacingAndGlyphs" font-size="33" font-weight="bold" fill="#242222" stroke="#242222" stroke-width="1.9" stroke-linejoin="round">20</text>
<text x="788.4" y="530.4" textLength="31.2" lengthAdjust="spacingAndGlyphs" font-size="24" font-weight="normal" fill="#2e2e2e" stroke="#2e2e2e" stroke-width="0.45" stroke-linejoin="round">WI</text>
<polygon points="792.6,539.4 799.7,539.4 799.7,563.0 792.6,563.0 792.6,548.8 787.9,551.7 786.0,547.6" fill="#242222" stroke="#242222" stroke-width="1.0" stroke-linejoin="round"/><text x="801.7" y="563.0" textLength="21.3" lengthAdjust="spacingAndGlyphs" font-size="33" font-weight="bold" fill="#242222" stroke="#242222" stroke-width="1.9" stroke-linejoin="round">2</text>
<text x="822.4" y="649.4" textLength="18.8" lengthAdjust="spacingAndGlyphs" font-size="24" font-weight="normal" fill="#2e2e2e" stroke="#2e2e2e" stroke-width="0.45" stroke-linejoin="round">IL</text>
<text x="814.8" y="684.5" textLength="40.5" lengthAdjust="spacingAndGlyphs" font-size="33" font-weight="bold" fill="#242222" stroke="#242222" stroke-width="1.9" stroke-linejoin="round">39</text>
<text x="888.4" y="650.4" textLength="25.9" lengthAdjust="spacingAndGlyphs" font-size="24" font-weight="normal" fill="#2e2e2e" stroke="#2e2e2e" stroke-width="0.45" stroke-linejoin="round">IN</text>
<text x="893.0" y="684.5" textLength="21.2" lengthAdjust="spacingAndGlyphs" font-size="33" font-weight="bold" fill="#242222" stroke="#242222" stroke-width="1.9" stroke-linejoin="round">8</text>
<text x="953.4" y="634.1" textLength="40.2" lengthAdjust="spacingAndGlyphs" font-size="24" font-weight="normal" fill="#2e2e2e" stroke="#2e2e2e" stroke-width="0.45" stroke-linejoin="round">OH</text>
<text x="965.6" y="664.0" textLength="19.8" lengthAdjust="spacingAndGlyphs" font-size="33" font-weight="bold" fill="#242222" stroke="#242222" stroke-width="1.9" stroke-linejoin="round">5</text>
<text x="898.4" y="542.4" textLength="29.2" lengthAdjust="spacingAndGlyphs" font-size="24" font-weight="normal" fill="#2e2e2e" stroke="#2e2e2e" stroke-width="0.45" stroke-linejoin="round">MI</text>
<polygon points="904.3,551.4 911.4,551.4 911.4,575.0 904.3,575.0 904.3,560.8 899.6,563.7 897.7,559.6" fill="#242222" stroke="#242222" stroke-width="1.0" stroke-linejoin="round"/><text x="913.4" y="575.0" textLength="20.9" lengthAdjust="spacingAndGlyphs" font-size="33" font-weight="bold" fill="#242222" stroke="#242222" stroke-width="1.9" stroke-linejoin="round">6</text>
<text x="938.4" y="709.9" textLength="32.8" lengthAdjust="spacingAndGlyphs" font-size="24" font-weight="normal" fill="#2e2e2e" stroke="#2e2e2e" stroke-width="0.45" stroke-linejoin="round">KY</text>
<text x="934.0" y="742.4" textLength="39.2" lengthAdjust="spacingAndGlyphs" font-size="33" font-weight="bold" fill="#242222" stroke="#242222" stroke-width="1.9" stroke-linejoin="round">24</text>
<text x="878.4" y="793.4" textLength="32.9" lengthAdjust="spacingAndGlyphs" font-size="24" font-weight="normal" fill="#2e2e2e" stroke="#2e2e2e" stroke-width="0.45" stroke-linejoin="round">TN</text>
<text x="918.8" y="794.0" textLength="41.2" lengthAdjust="spacingAndGlyphs" font-size="33" font-weight="bold" fill="#242222" stroke="#242222" stroke-width="1.9" stroke-linejoin="round">25</text>
<text x="1015.4" y="673.4" textLength="40.2" lengthAdjust="spacingAndGlyphs" font-size="24" font-weight="normal" fill="#2e2e2e" stroke="#2e2e2e" stroke-width="0.45" stroke-linejoin="round">WV</text>
<text x="1015.5" y="705.0" textLength="40.0" lengthAdjust="spacingAndGlyphs" font-size="33" font-weight="bold" fill="#242222" stroke="#242222" stroke-width="1.9" stroke-linejoin="round">29</text>
<text x="1077.9" y="681.4" textLength="34.7" lengthAdjust="spacingAndGlyphs" font-size="24" font-weight="normal" fill="#2e2e2e" stroke="#2e2e2e" stroke-width="0.45" stroke-linejoin="round">VA</text>
<polygon points="1086.1,690.2 1093.2,690.2 1093.2,713.8 1086.1,713.8 1086.1,699.6 1081.4,702.5 1079.5,698.4" fill="#242222" stroke="#242222" stroke-width="1.0" stroke-linejoin="round"/><text x="1095.2" y="713.8" textLength="20.3" lengthAdjust="spacingAndGlyphs" font-size="33" font-weight="bold" fill="#242222" stroke="#242222" stroke-width="1.9" stroke-linejoin="round">0</text>
<text x="1070.4" y="582.1" textLength="31.0" lengthAdjust="spacingAndGlyphs" font-size="24" font-weight="normal" fill="#2e2e2e" stroke="#2e2e2e" stroke-width="0.45" stroke-linejoin="round">PA</text>
<polygon points="1075.6,590.4 1082.7,590.4 1082.7,614.0 1075.6,614.0 1075.6,599.8 1070.9,602.7 1069.0,598.6" fill="#242222" stroke="#242222" stroke-width="1.0" stroke-linejoin="round"/><text x="1084.7" y="614.0" textLength="21.8" lengthAdjust="spacingAndGlyphs" font-size="33" font-weight="bold" fill="#242222" stroke="#242222" stroke-width="1.9" stroke-linejoin="round">8</text>
<text x="1047.4" y="765.0" textLength="36.8" lengthAdjust="spacingAndGlyphs" font-size="24" font-weight="normal" fill="#2e2e2e" stroke="#2e2e2e" stroke-width="0.45" stroke-linejoin="round">NC</text>
<polygon points="1099.3,742.0 1106.4,742.0 1106.4,765.6 1099.3,765.6 1099.3,751.4 1094.6,754.3 1092.7,750.2" fill="#242222" stroke="#242222" stroke-width="1.0" stroke-linejoin="round"/><text x="1108.4" y="765.6" textLength="19.1" lengthAdjust="spacingAndGlyphs" font-size="33" font-weight="bold" fill="#242222" stroke="#242222" stroke-width="1.9" stroke-linejoin="round">7</text>
<text x="1056.2" y="803.0" textLength="33.4" lengthAdjust="spacingAndGlyphs" font-size="24" font-weight="normal" fill="#2e2e2e" stroke="#2e2e2e" stroke-width="0.45" stroke-linejoin="round">SC</text>
<text x="1055.8" y="834.0" textLength="38.7" lengthAdjust="spacingAndGlyphs" font-size="33" font-weight="bold" fill="#242222" stroke="#242222" stroke-width="1.9" stroke-linejoin="round">23</text>
<text x="987.1" y="852.4" textLength="36.5" lengthAdjust="spacingAndGlyphs" font-size="24" font-weight="normal" fill="#2e2e2e" stroke="#2e2e2e" stroke-width="0.45" stroke-linejoin="round">GA</text>
<text x="998.9" y="883.0" textLength="19.6" lengthAdjust="spacingAndGlyphs" font-size="33" font-weight="bold" fill="#242222" stroke="#242222" stroke-width="1.9" stroke-linejoin="round">6</text>
<text x="1072.2" y="966.8" textLength="27.6" lengthAdjust="spacingAndGlyphs" font-size="24" font-weight="normal" fill="#2e2e2e" stroke="#2e2e2e" stroke-width="0.45" stroke-linejoin="round">FL</text>
<text x="1105.4" y="490.4" textLength="36.2" lengthAdjust="spacingAndGlyphs" font-size="24" font-weight="normal" fill="#2e2e2e" stroke="#2e2e2e" stroke-width="0.45" stroke-linejoin="round">NY</text>
<text x="1107.0" y="531.0" textLength="41.5" lengthAdjust="spacingAndGlyphs" font-size="33" font-weight="bold" fill="#242222" stroke="#242222" stroke-width="1.9" stroke-linejoin="round">46</text>
<text x="1198.4" y="386.1" textLength="38.2" lengthAdjust="spacingAndGlyphs" font-size="24" font-weight="normal" fill="#2e2e2e" stroke="#2e2e2e" stroke-width="0.45" stroke-linejoin="round">ME</text>
<text x="1199.0" y="418.0" textLength="40.3" lengthAdjust="spacingAndGlyphs" font-size="33" font-weight="bold" fill="#242222" stroke="#242222" stroke-width="1.9" stroke-linejoin="round">22</text>
<text x="1029.9" y="370.4" textLength="37.7" lengthAdjust="spacingAndGlyphs" font-size="24" font-weight="normal" fill="#2e2e2e" stroke="#2e2e2e" stroke-width="0.45" stroke-linejoin="round">NH</text>
<text x="1036.0" y="421.7" textLength="30.6" lengthAdjust="spacingAndGlyphs" font-size="24" font-weight="normal" fill="#2e2e2e" stroke="#2e2e2e" stroke-width="0.45" stroke-linejoin="round">VT</text>
<text x="1074.0" y="423.0" textLength="39.3" lengthAdjust="spacingAndGlyphs" font-size="33" font-weight="bold" fill="#242222" stroke="#242222" stroke-width="1.9" stroke-linejoin="round">42</text>
<text x="1270.4" y="461.4" textLength="40.2" lengthAdjust="spacingAndGlyphs" font-size="24" font-weight="normal" fill="#2e2e2e" stroke="#2e2e2e" stroke-width="0.45" stroke-linejoin="round">MA</text>
<text x="1317.5" y="460.5" textLength="40.0" lengthAdjust="spacingAndGlyphs" font-size="33" font-weight="bold" fill="#242222" stroke="#242222" stroke-width="1.9" stroke-linejoin="round">38</text>
<text x="1271.1" y="512.8" textLength="24.0" lengthAdjust="spacingAndGlyphs" font-size="24" font-weight="normal" fill="#2e2e2e" stroke="#2e2e2e" stroke-width="0.45" stroke-linejoin="round">RI</text>
<polygon points="1327.4,488.8 1334.5,488.8 1334.5,512.4 1327.4,512.4 1327.4,498.2 1322.7,501.1 1320.8,497.0" fill="#242222" stroke="#242222" stroke-width="1.0" stroke-linejoin="round"/><text x="1336.5" y="512.4" textLength="21.0" lengthAdjust="spacingAndGlyphs" font-size="33" font-weight="bold" fill="#242222" stroke="#242222" stroke-width="1.9" stroke-linejoin="round">9</text>
<text x="1271.1" y="564.4" textLength="34.5" lengthAdjust="spacingAndGlyphs" font-size="24" font-weight="normal" fill="#2e2e2e" stroke="#2e2e2e" stroke-width="0.45" stroke-linejoin="round">CT</text>
<text x="1317.0" y="564.0" textLength="40.5" lengthAdjust="spacingAndGlyphs" font-size="33" font-weight="bold" fill="#242222" stroke="#242222" stroke-width="1.9" stroke-linejoin="round">40</text>
<text x="1271.1" y="616.1" textLength="31.5" lengthAdjust="spacingAndGlyphs" font-size="24" font-weight="normal" fill="#2e2e2e" stroke="#2e2e2e" stroke-width="0.45" stroke-linejoin="round">NJ</text>
<text x="1317.0" y="615.7" textLength="40.5" lengthAdjust="spacingAndGlyphs" font-size="33" font-weight="bold" fill="#242222" stroke="#242222" stroke-width="1.9" stroke-linejoin="round">35</text>
<text x="1271.1" y="667.6" textLength="35.0" lengthAdjust="spacingAndGlyphs" font-size="24" font-weight="normal" fill="#2e2e2e" stroke="#2e2e2e" stroke-width="0.45" stroke-linejoin="round">DE</text>
<text x="1318.0" y="667.0" textLength="41.5" lengthAdjust="spacingAndGlyphs" font-size="33" font-weight="bold" fill="#242222" stroke="#242222" stroke-width="1.9" stroke-linejoin="round">44</text>
<text x="1271.1" y="719.1" textLength="40.5" lengthAdjust="spacingAndGlyphs" font-size="24" font-weight="normal" fill="#2e2e2e" stroke="#2e2e2e" stroke-width="0.45" stroke-linejoin="round">MD</text>
<text x="1320.8" y="718.7" textLength="19.5" lengthAdjust="spacingAndGlyphs" font-size="33" font-weight="bold" fill="#242222" stroke="#242222" stroke-width="1.9" stroke-linejoin="round">3</text><polygon points="1348.9,695.1 1356.0,695.1 1356.0,718.7 1348.9,718.7 1348.9,704.5 1344.2,707.4 1342.3,703.3" fill="#242222" stroke="#242222" stroke-width="1.0" stroke-linejoin="round"/>
<circle cx="1099.6" cy="361.3" r="23.7" fill="#e5506a" stroke="#fff" stroke-width="2.6" filter="url(#sh)"/>
<polygon points="1098.3,349.8 1108.4,349.8 1108.4,372.8 1098.3,372.8 1098.3,359.5 1092.3,362.7 1090.0,358.1" fill="#fff" stroke="#fff" stroke-width="0.8" stroke-linejoin="round"/>
<circle cx="1087" cy="994.8" r="23.7" fill="#e5506a" stroke="#fff" stroke-width="2.6"/>
<text x="1087" y="1006.8" text-anchor="middle" font-size="34" font-weight="bold" fill="#fff" stroke="#fff" stroke-width="1.6" stroke-linejoin="round">2</text>
<circle cx="577.4" cy="567.7" r="23.7" fill="#e5506a" stroke="#fff" stroke-width="2.6"/>
<text x="577.4" y="579.7" text-anchor="middle" font-size="34" font-weight="bold" fill="#fff" stroke="#fff" stroke-width="1.6" stroke-linejoin="round">3</text>
<text x="49.0" y="1167.0" textLength="680.0" lengthAdjust="spacingAndGlyphs" font-size="26" font-weight="bold" fill="#2a2a2a" stroke="#2a2a2a" stroke-width="0.8" stroke-linejoin="round">New Hampshire - State with the Best Taxpayer ROI</text>
<text x="49.0" y="1210.0" textLength="645.0" lengthAdjust="spacingAndGlyphs" font-size="26" font-weight="bold" fill="#2a2a2a" stroke="#2a2a2a" stroke-width="0.8" stroke-linejoin="round">New Mexico - State with the Worst Taxpayer ROI</text>
<text x="1112.0" y="1209.0" textLength="224.0" lengthAdjust="spacingAndGlyphs" font-size="54.5" font-weight="bold" fill="#222" stroke="#222" stroke-width="1.6" stroke-linejoin="round">WalletHub</text>
</g></svg></body></html>
